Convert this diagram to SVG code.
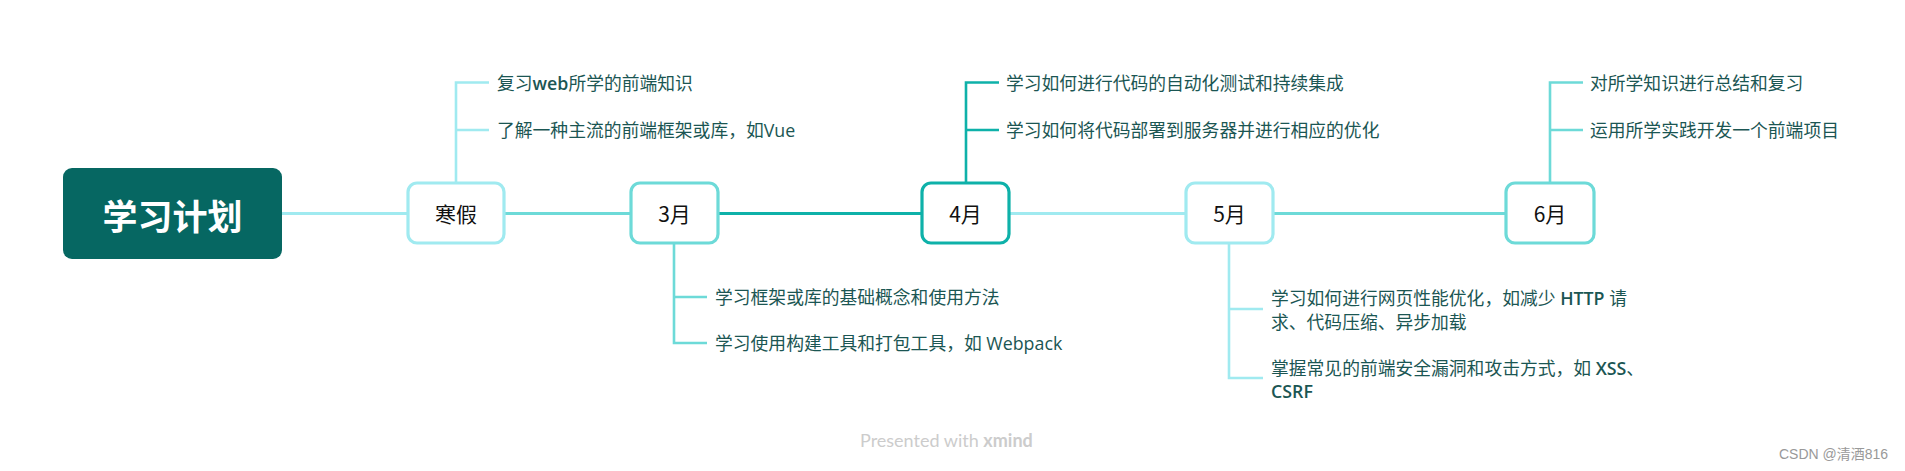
<svg xmlns="http://www.w3.org/2000/svg" width="1905" height="471" viewBox="0 0 1905 471">
<style>
.bg{fill:#ffffff}
.node{fill:#ffffff;stroke-width:3.2}
.lt{stroke:#a0eaf0}
.md{stroke:#6ddad8}
.dk{stroke:#0eb1a9}
.lbl{font-family:"Noto Sans CJK SC","Noto Sans",sans-serif;font-size:21px;fill:#111;text-anchor:middle;dominant-baseline:central}
.item{font-family:"Open Sans","Noto Sans CJK SC",sans-serif;font-size:17.8px;fill:#1b5653;dominant-baseline:central}
.b{font-weight:600}
.edge{fill:none;stroke-width:3}
.br{fill:none;stroke-width:2.6}
</style>
<rect class="bg" x="0" y="0" width="1905" height="471"/>
<g id="connectors">
  <line class="edge lt" x1="282" y1="213.5" x2="408" y2="213.5"/>
  <line class="edge md" x1="504" y1="213.5" x2="631" y2="213.5"/>
  <line class="edge dk" x1="718" y1="213.5" x2="922" y2="213.5"/>
  <line class="edge lt" x1="1009" y1="213.5" x2="1186" y2="213.5"/>
  <line class="edge md" x1="1273" y1="213.5" x2="1506" y2="213.5"/>
  <path class="br lt" d="M456 183 V82 M454.7 82.5 H489 M456 130 H489"/>
  <path class="br md" d="M674 243 V343 M674 297 H707 M672.7 343 H707"/>
  <path class="br dk" d="M966 183 V82 M964.7 82.5 H999 M966 130 H999"/>
  <path class="br lt" d="M1229 243 V378 M1229 309 H1263 M1227.7 378 H1263"/>
  <path class="br md" d="M1550 183 V82 M1548.7 82.5 H1583 M1550 130 H1583"/>
</g>
<g id="root">
  <rect x="63" y="168" width="219" height="91" rx="9" fill="#066762"/>
  <text x="172.5" y="214" font-family="Noto Sans CJK SC,sans-serif" font-size="35" font-weight="700" fill="#ffffff" text-anchor="middle" dominant-baseline="central">学习计划</text>
</g>
<g id="n-hanjia">
  <rect class="node lt" x="408" y="183" width="96" height="60" rx="9"/>
  <text class="lbl" x="456" y="213">寒假</text>
  <text class="item" x="497" y="83">复习<tspan class="b">web</tspan>所学的前端知识</text>
  <text class="item" x="497" y="130">了解一种主流的前端框架或库，如Vue</text>
</g>
<g id="n-3">
  <rect class="node md" x="631" y="183" width="87" height="60" rx="9"/>
  <text class="lbl" x="674.5" y="213">3月</text>
  <text class="item" x="715" y="297">学习框架或库的基础概念和使用方法</text>
  <text class="item" x="715" y="343">学习使用构建工具和打包工具，如 Webpack</text>
</g>
<g id="n-4">
  <rect class="node dk" x="922" y="183" width="87" height="60" rx="9" stroke-width="3.8"/>
  <text class="lbl" x="965.5" y="213">4月</text>
  <text class="item" x="1006" y="83">学习如何进行代码的自动化测试和持续集成</text>
  <text class="item" x="1006" y="130">学习如何将代码部署到服务器并进行相应的优化</text>
</g>
<g id="n-5">
  <rect class="node lt" x="1186" y="183" width="87" height="60" rx="9"/>
  <text class="lbl" x="1229.5" y="213">5月</text>
  <text class="item" x="1271" y="298">学习如何进行网页性能优化，如减少 <tspan class="b">HTTP</tspan> 请</text>
  <text class="item" x="1271" y="322">求、代码压缩、异步加载</text>
  <text class="item" x="1271" y="368">掌握常见的前端安全漏洞和攻击方式，如 <tspan class="b">XSS</tspan>、</text>
  <text class="item" x="1271" y="391"><tspan class="b">CSRF</tspan></text>
</g>
<g id="n-6">
  <rect class="node md" x="1506" y="183" width="88" height="60" rx="9"/>
  <text class="lbl" x="1550" y="213">6月</text>
  <text class="item" x="1590" y="83">对所学知识进行总结和复习</text>
  <text class="item" x="1590" y="130">运用所学实践开发一个前端项目</text>
</g>
<text x="860" y="440" font-family="Lato,sans-serif" font-size="18" fill="#cccccc" dominant-baseline="central">Presented with <tspan font-weight="700">xmind</tspan></text>
<text x="1779" y="454" font-family="Liberation Sans,Noto Sans CJK SC,sans-serif" font-size="14" fill="#999999" dominant-baseline="central">CSDN @清酒816</text>
</svg>
